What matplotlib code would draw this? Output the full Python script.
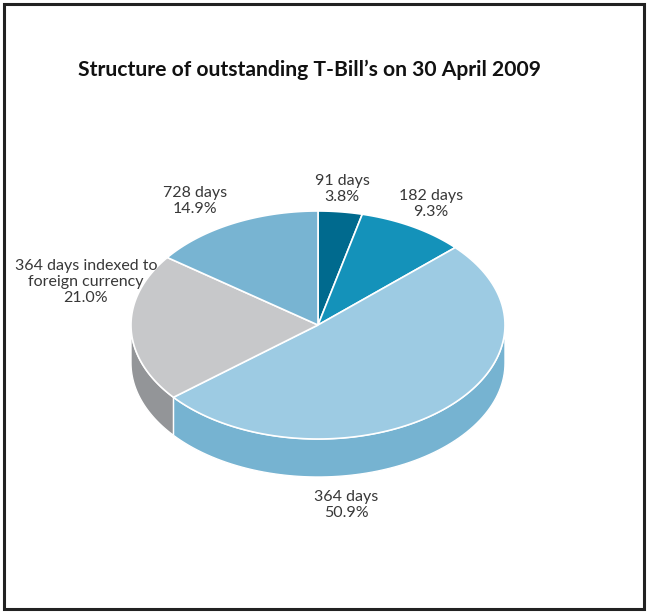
import numpy as np
import matplotlib.pyplot as plt
from matplotlib.patches import Polygon, Rectangle

plt.rcParams['font.family'] = ['Lato', 'DejaVu Sans']

labels = ['91 days', '182 days', '364 days', '364 days indexed to\nforeign currency', '728 days']
shares = [3.8, 9.3, 50.9, 21.0, 14.9]
top_colors = ['#006a8e', '#1492ba', '#9dcbe3', '#c7c8ca', '#78b4d2']
side_colors = ['#00506b', '#0f7596', '#76b3d1', '#939598', '#5f9dbd']

# label anchor points (pixel space)
label_pos = [(342, 189), (431, 204), (346, 505), (86, 282), (195, 201)]

W, H = 648, 612
fig = plt.figure(figsize=(W / 100, H / 100), dpi=100)
ax = fig.add_axes([0, 0, 1, 1])
ax.set_xlim(0, W)
ax.set_ylim(H, 0)
ax.axis('off')

# outer frame
ax.add_patch(Rectangle((4, 4), 640, 605, fill=False, edgecolor='#222222', lw=2.2))

ax.text(309, 70, "Structure of outstanding T-Bill\u2019s on 30 April 2009",
        ha='center', va='center', fontsize=15.2, fontweight='bold', color='#111111')

cx, cy, rx, ry, depth = 318, 325, 187, 114, 38


def pt(t, dy=0):
    return cx + rx * np.cos(t), cy - ry * np.sin(t) + dy


# slice angles, clockwise from 12 o'clock
fr = np.array(shares) / sum(shares)
starts = np.deg2rad(90 - 360 * np.concatenate([[0], np.cumsum(fr)[:-1]]))
ends = starts - 2 * np.pi * fr

# side walls: only the front half (angles between pi and 2pi) is visible
for t0, t1, sc in zip(starts, ends, side_colors):
    lo, hi = min(t0, t1), max(t0, t1)
    for off in (0, -2 * np.pi, 2 * np.pi):
        s = max(lo + off, np.pi)
        e = min(hi + off, 2 * np.pi)
        if e > s:
            tt = np.linspace(s, e, 80)
            xs, ys = pt(tt)
            xb, yb = pt(tt[::-1], depth)
            poly = np.column_stack([np.concatenate([xs, xb]), np.concatenate([ys, yb])])
            ax.add_patch(Polygon(poly, closed=True, facecolor=sc, edgecolor='white', lw=1.0))

# top faces
for t0, t1, tc in zip(starts, ends, top_colors):
    tt = np.linspace(t0, t1, 120)
    xs, ys = pt(tt)
    poly = np.column_stack([np.concatenate([[cx], xs]), np.concatenate([[cy], ys])])
    ax.add_patch(Polygon(poly, closed=True, facecolor=tc, edgecolor='white', lw=1.2))

for lab, v, (x, y) in zip(labels, shares, label_pos):
    ax.text(x, y, f"{lab}\n{v:.1f}%", ha='center', va='center', fontsize=11.5,
            color='#383838', linespacing=1.2)

fig.savefig('out.png', dpi=100)
